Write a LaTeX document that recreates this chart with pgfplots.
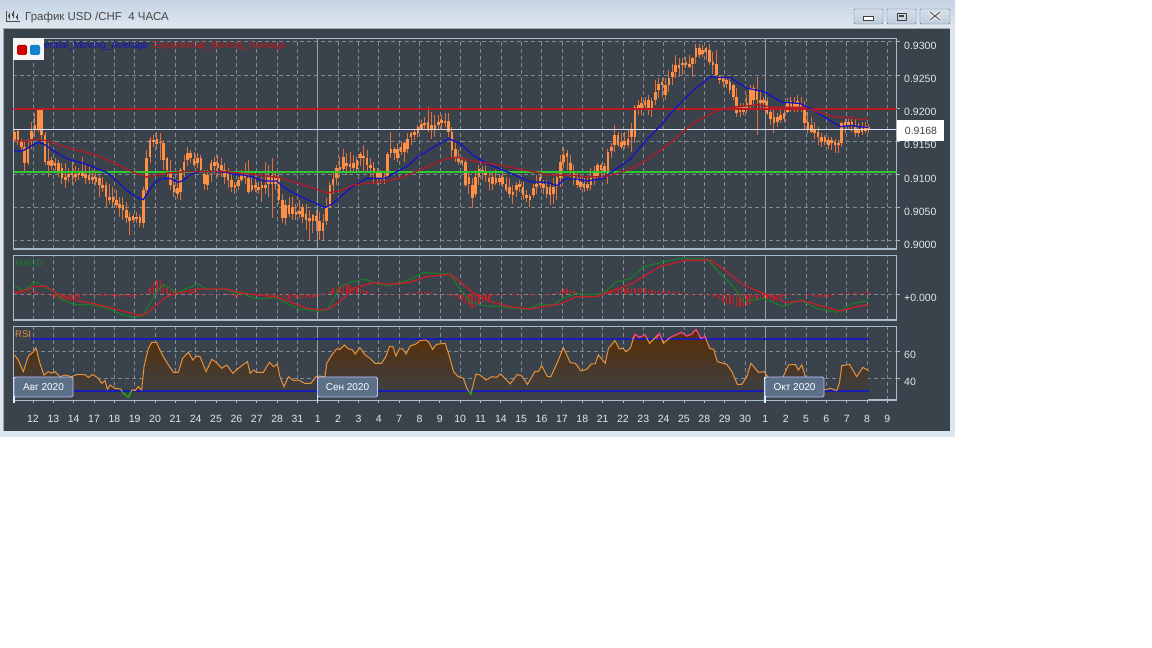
\documentclass[border=0pt]{standalone}
\usepackage{fontspec}
\setmainfont{Liberation Sans}
\usepackage{pgfplots}
\usepackage{pgfplotstable}
\pgfplotsset{compat=1.18}

\definecolor{panelbg}{HTML}{3A424C}
\definecolor{framec}{HTML}{A9BCCB}
\definecolor{gridc}{HTML}{7F8992}
\definecolor{wickc}{HTML}{E2703A}
\definecolor{bodyc}{HTML}{FF8F42}
\definecolor{mablue}{HTML}{1414C4}
\definecolor{mared}{HTML}{A81E2A}
\definecolor{levelred}{HTML}{C01820}
\definecolor{levelgreen}{HTML}{30C830}
\definecolor{macdgreen}{HTML}{1C7A2C}
\definecolor{macdred}{HTML}{C4202A}
\definecolor{rsiorange}{HTML}{E8923A}
\definecolor{rsiblue}{HTML}{1A1AB4}
\definecolor{rsifill}{HTML}{5A2D00}
\definecolor{rsimid}{HTML}{48392E}
\definecolor{tagbg}{HTML}{5C7088}
\definecolor{ticktxt}{HTML}{E4E8EC}
\definecolor{titletop}{HTML}{C5D3E2}
\definecolor{titlebot}{HTML}{DFE8F1}
\definecolor{chromebg}{HTML}{DCE6F0}
\definecolor{btntop}{HTML}{D6E0EB}
\definecolor{btnbot}{HTML}{BFCCDA}

% USD/CHF 4h candles: body top, body bottom, high, low
\pgfplotstableread{
top bot high low
0.9164 0.9152 0.9166 0.9149
0.9166 0.9149 0.9168 0.9144
0.9151 0.9142 0.9153 0.9136
0.9142 0.9117 0.9152 0.9104
0.9139 0.9117 0.9154 0.9114
0.9166 0.9154 0.9179 0.9139
0.9174 0.9169 0.9192 0.9157
0.9197 0.9169 0.9199 0.9164
0.9197 0.9159 0.9199 0.9152
0.9159 0.9119 0.9164 0.9114
0.9120 0.9114 0.9147 0.9096
0.9122 0.9113 0.9127 0.9107
0.9117 0.9112 0.9124 0.9104
0.9117 0.9104 0.9122 0.9096
0.9109 0.9094 0.9117 0.9086
0.9096 0.9091 0.9117 0.9079
0.9101 0.9096 0.9109 0.9089
0.9104 0.9099 0.9122 0.9084
0.9100 0.9096 0.9112 0.9089
0.9104 0.9099 0.9109 0.9091
0.9102 0.9097 0.9127 0.9094
0.9101 0.9094 0.9117 0.9086
0.9099 0.9091 0.9112 0.9086
0.9096 0.9091 0.9107 0.9086
0.9096 0.9089 0.9104 0.9084
0.9094 0.9084 0.9099 0.9066
0.9084 0.9079 0.9096 0.9074
0.9084 0.9066 0.9089 0.9049
0.9066 0.9061 0.9086 0.9056
0.9066 0.9059 0.9081 0.9051
0.9061 0.9054 0.9076 0.9049
0.9056 0.9049 0.9066 0.9036
0.9054 0.9046 0.9066 0.9031
0.9046 0.9034 0.9059 0.9026
0.9036 0.9029 0.9044 0.9009
0.9037 0.9031 0.9041 0.9026
0.9036 0.9032 0.9044 0.9026
0.9036 0.9027 0.9041 0.9021
0.9076 0.9026 0.9081 0.9019
0.9124 0.9076 0.9137 0.9071
0.9152 0.9127 0.9157 0.9117
0.9152 0.9149 0.9159 0.9142
0.9154 0.9146 0.9164 0.9139
0.9149 0.9147 0.9162 0.9122
0.9147 0.9122 0.9152 0.9107
0.9124 0.9107 0.9127 0.9096
0.9104 0.9084 0.9122 0.9076
0.9084 0.9074 0.9096 0.9066
0.9079 0.9071 0.9091 0.9063
0.9107 0.9074 0.9109 0.9061
0.9119 0.9107 0.9129 0.9096
0.9132 0.9122 0.9142 0.9112
0.9132 0.9124 0.9137 0.9117
0.9123 0.9114 0.9134 0.9111
0.9124 0.9117 0.9132 0.9109
0.9124 0.9107 0.9129 0.9104
0.9101 0.9086 0.9107 0.9076
0.9099 0.9084 0.9107 0.9076
0.9117 0.9107 0.9122 0.9089
0.9118 0.9112 0.9127 0.9101
0.9117 0.9109 0.9129 0.9096
0.9114 0.9107 0.9124 0.9096
0.9107 0.9096 0.9117 0.9086
0.9102 0.9091 0.9109 0.9079
0.9091 0.9081 0.9102 0.9074
0.9084 0.9079 0.9089 0.9071
0.9091 0.9082 0.9096 0.9076
0.9099 0.9091 0.9107 0.9089
0.9099 0.9094 0.9117 0.9086
0.9094 0.9074 0.9122 0.9071
0.9084 0.9076 0.9096 0.9074
0.9084 0.9079 0.9102 0.9074
0.9081 0.9076 0.9089 0.9071
0.9084 0.9079 0.9096 0.9059
0.9084 0.9079 0.9119 0.9071
0.9096 0.9086 0.9114 0.9066
0.9099 0.9086 0.9124 0.9034
0.9096 0.9086 0.9104 0.9076
0.9096 0.9061 0.9102 0.9056
0.9061 0.9034 0.9071 0.9026
0.9054 0.9034 0.9061 0.9024
0.9054 0.9041 0.9066 0.9036
0.9051 0.9041 0.9066 0.9031
0.9044 0.9039 0.9056 0.9031
0.9045 0.9041 0.9061 0.9034
0.9051 0.9036 0.9056 0.9026
0.9041 0.9031 0.9056 0.9016
0.9034 0.9029 0.9046 0.9001
0.9039 0.9029 0.9041 0.9011
0.9037 0.9029 0.9046 0.9014
0.9029 0.9014 0.9044 0.9001
0.9027 0.9014 0.9041 0.9001
0.9051 0.9029 0.9064 0.9024
0.9084 0.9051 0.9089 0.9049
0.9093 0.9084 0.9102 0.9071
0.9109 0.9094 0.9114 0.9084
0.9111 0.9107 0.9127 0.9096
0.9127 0.9108 0.9139 0.9102
0.9117 0.9112 0.9132 0.9099
0.9116 0.9111 0.9134 0.9102
0.9117 0.9109 0.9129 0.9102
0.9122 0.9108 0.9127 0.9102
0.9131 0.9124 0.9134 0.9112
0.9128 0.9124 0.9144 0.9104
0.9124 0.9114 0.9137 0.9104
0.9114 0.9109 0.9124 0.9096
0.9109 0.9102 0.9119 0.9086
0.9104 0.9094 0.9109 0.9084
0.9102 0.9094 0.9107 0.9086
0.9096 0.9091 0.9104 0.9085
0.9131 0.9096 0.9134 0.9094
0.9138 0.9133 0.9164 0.9124
0.9139 0.9132 0.9142 0.9122
0.9139 0.9124 0.9147 0.9119
0.9142 0.9134 0.9149 0.9129
0.9147 0.9134 0.9149 0.9119
0.9154 0.9139 0.9162 0.9132
0.9162 0.9156 0.9164 0.9144
0.9164 0.9159 0.9167 0.9152
0.9172 0.9163 0.9174 0.9157
0.9176 0.9169 0.9182 0.9167
0.9178 0.9174 0.9187 0.9167
0.9179 0.9169 0.9202 0.9164
0.9174 0.9167 0.9194 0.9154
0.9174 0.9167 0.9189 0.9157
0.9179 0.9174 0.9189 0.9167
0.9182 0.9177 0.9189 0.9167
0.9181 0.9177 0.9192 0.9172
0.9181 0.9164 0.9192 0.9157
0.9164 0.9137 0.9172 0.9124
0.9139 0.9124 0.9147 0.9119
0.9124 0.9119 0.9137 0.9114
0.9122 0.9117 0.9127 0.9112
0.9119 0.9084 0.9122 0.9081
0.9096 0.9085 0.9104 0.9071
0.9084 0.9064 0.9094 0.9049
0.9096 0.9071 0.9107 0.9066
0.9108 0.9096 0.9114 0.9084
0.9107 0.9102 0.9112 0.9091
0.9104 0.9099 0.9112 0.9089
0.9094 0.9089 0.9104 0.9076
0.9096 0.9086 0.9102 0.9076
0.9094 0.9087 0.9107 0.9084
0.9095 0.9089 0.9099 0.9084
0.9096 0.9086 0.9104 0.9081
0.9086 0.9076 0.9096 0.9074
0.9081 0.9071 0.9094 0.9064
0.9074 0.9069 0.9084 0.9056
0.9084 0.9076 0.9089 0.9066
0.9085 0.9081 0.9091 0.9074
0.9081 0.9069 0.9089 0.9061
0.9069 0.9064 0.9076 0.9059
0.9067 0.9061 0.9071 0.9051
0.9079 0.9069 0.9086 0.9064
0.9086 0.9081 0.9099 0.9071
0.9096 0.9084 0.9104 0.9079
0.9085 0.9079 0.9091 0.9071
0.9081 0.9071 0.9091 0.9064
0.9081 0.9069 0.9086 0.9054
0.9081 0.9071 0.9094 0.9056
0.9096 0.9081 0.9104 0.9061
0.9119 0.9094 0.9129 0.9081
0.9129 0.9119 0.9142 0.9109
0.9132 0.9126 0.9137 0.9107
0.9117 0.9107 0.9129 0.9096
0.9102 0.9094 0.9114 0.9084
0.9094 0.9084 0.9104 0.9079
0.9089 0.9081 0.9099 0.9076
0.9086 0.9079 0.9094 0.9074
0.9085 0.9080 0.9096 0.9075
0.9096 0.9084 0.9109 0.9076
0.9102 0.9094 0.9112 0.9084
0.9114 0.9096 0.9117 0.9091
0.9114 0.9107 0.9117 0.9094
0.9112 0.9104 0.9117 0.9096
0.9134 0.9099 0.9139 0.9086
0.9142 0.9136 0.9147 0.9124
0.9159 0.9144 0.9174 0.9134
0.9159 0.9144 0.9164 0.9142
0.9149 0.9142 0.9162 0.9139
0.9151 0.9144 0.9164 0.9139
0.9154 0.9144 0.9167 0.9142
0.9169 0.9156 0.9177 0.9134
0.9202 0.9157 0.9205 0.9147
0.9205 0.9198 0.9212 0.9189
0.9207 0.9199 0.9217 0.9189
0.9210 0.9205 0.9217 0.9199
0.9212 0.9199 0.9220 0.9189
0.9210 0.9199 0.9215 0.9187
0.9225 0.9212 0.9242 0.9205
0.9237 0.9227 0.9245 0.9215
0.9240 0.9235 0.9245 0.9217
0.9235 0.9220 0.9245 0.9212
0.9245 0.9235 0.9257 0.9225
0.9255 0.9247 0.9267 0.9235
0.9265 0.9255 0.9280 0.9245
0.9265 0.9260 0.9275 0.9247
0.9268 0.9265 0.9275 0.9250
0.9270 0.9265 0.9277 0.9260
0.9267 0.9262 0.9280 0.9260
0.9275 0.9267 0.9277 0.9247
0.9290 0.9277 0.9297 0.9267
0.9290 0.9280 0.9297 0.9275
0.9288 0.9282 0.9295 0.9277
0.9290 0.9285 0.9292 0.9272
0.9287 0.9270 0.9297 0.9265
0.9270 0.9265 0.9285 0.9252
0.9267 0.9250 0.9287 0.9245
0.9248 0.9242 0.9250 0.9237
0.9245 0.9240 0.9250 0.9232
0.9242 0.9237 0.9247 0.9230
0.9240 0.9227 0.9245 0.9222
0.9235 0.9217 0.9237 0.9212
0.9217 0.9192 0.9230 0.9187
0.9202 0.9194 0.9207 0.9187
0.9202 0.9194 0.9207 0.9189
0.9207 0.9199 0.9220 0.9192
0.9230 0.9205 0.9235 0.9197
0.9230 0.9212 0.9235 0.9202
0.9227 0.9212 0.9247 0.9159
0.9212 0.9207 0.9227 0.9199
0.9212 0.9207 0.9217 0.9197
0.9210 0.9192 0.9215 0.9189
0.9194 0.9184 0.9202 0.9174
0.9187 0.9177 0.9199 0.9162
0.9186 0.9179 0.9192 0.9172
0.9189 0.9182 0.9199 0.9177
0.9192 0.9184 0.9202 0.9179
0.9207 0.9194 0.9215 0.9192
0.9210 0.9202 0.9217 0.9194
0.9207 0.9199 0.9217 0.9194
0.9210 0.9202 0.9220 0.9194
0.9207 0.9202 0.9217 0.9194
0.9202 0.9177 0.9210 0.9167
0.9179 0.9169 0.9194 0.9162
0.9174 0.9164 0.9187 0.9162
0.9167 0.9162 0.9179 0.9154
0.9164 0.9157 0.9172 0.9144
0.9157 0.9149 0.9162 0.9142
0.9157 0.9149 0.9159 0.9144
0.9152 0.9144 0.9157 0.9139
0.9152 0.9147 0.9157 0.9137
0.9149 0.9144 0.9154 0.9132
0.9148 0.9144 0.9152 0.9132
0.9177 0.9147 0.9179 0.9142
0.9179 0.9173 0.9184 0.9162
0.9179 0.9174 0.9184 0.9169
0.9179 0.9174 0.9184 0.9164
0.9172 0.9162 0.9184 0.9157
0.9169 0.9162 0.9177 0.9157
0.9172 0.9164 0.9179 0.9159
0.9173 0.9166 0.9179 0.9162
0.9171 0.9168 0.9176 0.9163
}\candles

% MACD histogram, one value per candle (scaled, 0 = zero line)
\pgfplotstableread{
hist
4
8
10
7
5
6
9
6
3
1
-1
-6
-10
-14
-18
-20
-19
-18
-16
-12
-4
-3
-2
-3
-2
-4
-5
-6
-5
-4
-6
-7
-6
-8
-7
-5
-4
-3
-2
6
22
36
42
42
34
24
16
8
4
3
4
5
8
9
6
2
1
0
1
0
1
0
0
-2
-5
-8
-9
-6
-3
-2
-1
-3
-5
-6
-4
-3
-5
-4
-2
-8
-12
-13
-12
-10
-12
-13
-12
-11
-10
-8
-6
-3
3
10
18
22
26
30
30
28
22
18
15
12
10
6
3
1
0
1
1
0
1
1
2
2
3
5
6
7
9
9
8
6
3
1
0
-1
-2
-4
-8
-14
-20
-28
-32
-40
-38
-30
-26
-20
-16
-8
-4
-2
-2
-1
-2
-1
-1
-2
-1
0
-1
-1
0
0
1
1
2
5
8
12
15
16
15
10
6
3
2
1
1
1
3
4
3
8
12
14
18
18
16
18
16
18
20
20
18
14
14
12
12
10
10
9
9
8
8
7
3
2
1
1
0
-1
-3
-5
-8
-12
-18
-22
-28
-30
-34
-36
-38
-38
-36
-28
-20
-16
-14
-14
-14
-18
-20
-15
-10
-6
-2
-1
-1
0
0
-2
-4
-6
-8
-9
-10
-8
-8
-6
-3
1
3
5
6
4
7
6
5
7
6
}\macdhist

\pgfplotstableread{
i rsi
0 57.1
1.1 53.4
2.6 44.9
4.1 56.3
5.6 59.5
6.3 62.4
7.5 51
8.7 42.4
10 44.9
11 43.7
11.9 44.9
13.4 41.2
14.9 42.4
16.9 41.2
18.3 42.7
20.8 42.7
21.8 40.7
23.1 42.9
24.7 40
25.7 36.3
26.7 38.3
27.4 32
28.2 35.1
29.6 32.7
31.3 32.2
32.1 29
33.6 26.1
34.6 31.5
35.6 31
36.5 33.9
37.5 31.5
38.2 48.5
39.5 62
40.5 66.3
41.9 66.3
42.9 60.7
43.9 55.9
45.4 49.8
46.9 44.4
48.3 44.4
49.6 54.6
51.3 59
52.6 53.4
53.7 56.3
54.7 55.9
56.5 44.9
58.2 53.9
59.6 51.5
61.1 47.3
62.6 49.8
64.4 43.7
66 47.3
68.7 52.2
69.5 43.7
70.5 46.1
71.4 44.4
73.4 44.4
75.2 51.7
76.4 48.5
77.5 50.5
78.3 41.2
79.5 33.9
80.8 41.2
82.3 38.3
83.7 38.8
85.7 36.3
87.4 36.3
88.9 41.2
89.6 41.7
91.6 41.2
92.1 51
93.6 57.1
95 61.5
96 61.2
97.3 64.4
98.5 61.5
99.5 61.2
100.5 57.8
101.9 62.4
103.4 57.1
104.9 54.6
106.3 51
108.3 51
109.6 56.3
110.6 63.2
111.6 63.2
112.5 56.3
113.5 61.5
114.5 61.5
115.5 57.8
116.7 63.7
118.4 65.1
119.6 67.6
121.1 68
122.1 66.8
123.3 61.2
124.5 64.9
127 65.6
128 58.3
129.5 44.9
130.9 41.2
132.4 40
133.4 32.7
134.6 28.5
136.1 43.2
137.3 42.4
139.1 38.8
140.8 41.2
142.2 40.7
143.4 43.2
146.2 35.9
148.3 42.9
149.6 41.7
151.3 35.6
153.5 44.9
154.5 44.9
155.5 49.3
157.2 41.2
158.2 41.2
160 51
161.9 62.4
162.9 57.1
163.9 51.5
165.4 51
167.1 45.4
168.8 46.6
170.1 50.5
171.3 50.5
172.2 57.1
174.2 51
175.2 62
177.1 67.6
178.4 61.5
179.4 62
180.4 59.5
181.6 62
183 72.2
184.3 70
186 71.7
187.3 65.6
190.2 72.9
191.4 65.6
193.4 70
196.8 73.7
198.3 71
199.8 72.4
201 75.9
202.4 69.3
203.7 70.5
205 62
206.2 61.2
207.3 52.2
210.1 50.2
211.6 44.9
213.2 35.6
214.5 35.6
216 41.2
217.2 51
219.4 44.4
221.1 44.9
222.4 40
224.9 32.7
226.8 41.7
228.3 49.8
230.3 50.2
231.2 46.1
232.2 49.8
233.2 41.7
234.7 36.3
237.1 32.7
239.1 31.5
240.6 32.7
242.5 31
243.3 36.3
244 49.3
246.3 50.2
248.4 41.2
250.2 48
251.9 45.6
}\rsidata

\pgfplotsset{
  panel/.style={
    scale only axis, width=883.4pt,
    xmin=-0.35, xmax=260.2,
    xtick={5.46,11.46,...,257.46},
    xticklabels={},
    ytick pos=right, xtick pos=bottom,
    axis line style={draw=framec, line width=1.2pt},
    grid=major,
    grid style={draw=gridc, line width=0.7pt, dash pattern=on 4pt off 3pt},
    tick style={draw=framec, line width=0.9pt},
    major tick length=3pt,
    tick align=outside,
    /pgf/number format/assume math mode=true,
    tick label style={font=\fontsize{10.5}{12}\selectfont, text=ticktxt},
    yticklabel style={anchor=west, xshift=1pt, yshift=-4pt},
  },
  monthline/.style={draw=gridc!80!white, line width=0.9pt, forget plot},
}

\begin{document}
\begin{tikzpicture}[x=1pt,y=1pt]
\path[use as bounding box, fill=white] (0,0) rectangle (1152,648);

% window chrome
\fill[top color=titletop, bottom color=titlebot] (0,648) rectangle (955,619);
\fill[chromebg] (0,619) rectangle (955,211);
\fill[panelbg] (3,619) rectangle (950,217);
\draw[gray!70, line width=1pt] (3,217) -- (3,619) -- (950,619);

% title bar
\begin{scope}[shift={(6,628)}, line width=0.8pt, draw=black!70]
  \draw (0,9) -- (0,-1) -- (14,-1);
  \draw (3,1) -- (3,7); \draw (7,2) -- (7,9); \draw (11,0) -- (11,6);
  \fill[black!70] (2,3) rectangle (4,5); \fill[black!70] (6,4) rectangle (8,7); \fill[black!70] (10,2) rectangle (12,4);
\end{scope}
\node[anchor=west, inner sep=0pt, text=black!72, font=\fontsize{11.5}{12}\selectfont] at (25,630.5) {График USD /CHF\ \ 4 ЧАСА};
\foreach \xa/\xb in {854/883, 887/916, 920/950} {
  \draw[draw=gray!80!blue, top color=btntop, bottom color=btnbot, rounded corners=1pt] (\xa,639) rectangle (\xb,624);
}
\fill[white] (863,628) rectangle (873,632); \draw[black!75, line width=0.8pt] (863,628) rectangle (873,632);
\draw[black!75, line width=0.8pt] (897,628) rectangle (906,635); \fill[black!75] (899,631) rectangle (904,633);
\draw[white, line width=3pt] (930,628) -- (940,636) (930,636) -- (940,628);
\draw[black!65, line width=1.1pt] (930,628) -- (940,636) (930,636) -- (940,628);

% price panel
\begin{axis}[panel, at={(13.3pt,399pt)}, anchor=south west, height=210.7pt,
  ymin=0.89875, ymax=0.93053,
  xtick style={draw=none},
  ytick={0.9000,0.9050,0.9100,0.9150,0.9200,0.9250,0.9300},
  yticklabel style={/pgf/number format/fixed, /pgf/number format/fixed zerofill, /pgf/number format/precision=4},
  scaled y ticks=false,
]
\addplot[monthline] coordinates {(89.46,0.89875) (89.46,0.93053)};
\addplot[monthline] coordinates {(221.46,0.89875) (221.46,0.93053)};

% high-low wicks, then bodies
\addplot[draw=none, forget plot, error bars/.cd, y dir=both, y explicit, error mark=none,
  error bar style={draw=wickc, line width=1pt}]
  table[x expr=\coordindex, y=bot, y error plus expr=\thisrow{high}-\thisrow{bot}, y error minus expr=\thisrow{bot}-\thisrow{low}] {\candles};
\addplot[draw=none, forget plot, error bars/.cd, y dir=plus, y explicit, error mark=none,
  error bar style={draw=bodyc, line width=2.6pt}]
  table[x expr=\coordindex, y=bot, y error plus expr=\thisrow{top}-\thisrow{bot}] {\candles};

% levels
\addplot[draw=levelred, line width=1.6pt] coordinates {(-0.35,0.91985) (260.2,0.91985)};
\addplot[draw=white!88!blue, line width=1.4pt] coordinates {(-0.35,0.9168) (260.2,0.9168)};
\addplot[draw=levelgreen, line width=1.6pt] coordinates {(-0.35,0.9104) (260.2,0.9104)};

% blue EMA
\addplot[draw=mablue, line width=1.3pt] coordinates {
(0,0.9135)(2.6,0.9136)(4.6,0.9142)(7,0.9149)(8.5,0.9146)(11.5,0.9136)(14.4,0.9127)(16.9,0.9121)
(20.3,0.9117)(23.3,0.9111)(27.2,0.9103)(30.1,0.9091)(33.1,0.9076)(36,0.9065)(38,0.9062)(39.5,0.9074)
(41,0.9085)(42.9,0.9093)(45.9,0.9094)(48.3,0.9088)(49.8,0.9091)(51.8,0.9100)(54.7,0.9104)(58.7,0.9104)
(62.6,0.9103)(64.5,0.9100)(67.5,0.9099)(70.5,0.9096)(73.4,0.9090)(77.3,0.9090)(79.3,0.9081)(82.3,0.9072)
(87.2,0.9060)(91.6,0.9050)(93.9,0.9056)(99,0.9079)(103.9,0.9094)(109.3,0.9094)(112.7,0.9104)(115.7,0.9112)
(119.6,0.9129)(124.6,0.9144)(128,0.9154)(131.4,0.9147)(135.4,0.9128)(140.3,0.9114)(146.2,0.9102)(152.1,0.9089)
(157,0.9088)(160,0.9083)(162.4,0.9093)(165.8,0.9093)(168.8,0.9090)(173.7,0.9094)(175.7,0.9102)(181.6,0.9123)
(185.5,0.9147)(190.4,0.9173)(195.3,0.9202)(200.2,0.9227)(205.2,0.9247)(211.1,0.9246)(216,0.9230)(221,0.9225)
(226.3,0.9209)(231.7,0.9207)(235.6,0.9197)(243.5,0.9172)(247.4,0.9174)(248.4,0.9172)(251.9,0.9171)};

% red EMA
\addplot[draw=mared, line width=1.4pt] coordinates {
(0,0.9151)(3.6,0.9150)(6.5,0.9153)(10.5,0.9150)(13.4,0.9144)(17.4,0.9138)(24.2,0.9129)(29.2,0.9118)
(35.1,0.9103)(39,0.9096)(41.9,0.9099)(44.9,0.9102)(49.8,0.9104)(56.7,0.9104)(62.6,0.9104)(66.5,0.9102)
(72.4,0.9099)(78.3,0.9095)(82.3,0.9089)(90.1,0.9076)(92.1,0.9072)(96,0.9075)(99.9,0.9084)(104.9,0.9087)
(109.8,0.9090)(114.7,0.9096)(119.6,0.9107)(126.5,0.9122)(130.4,0.9126)(136.3,0.9119)(143.2,0.9114)(151.1,0.9106)
(158,0.9099)(163.9,0.9099)(169.8,0.9096)(175.7,0.9098)(181.6,0.9108)(186.5,0.9122)(193.4,0.9147)(199.3,0.9174)
(206.2,0.9194)(211.1,0.9201)(219,0.9205)(224,0.9201)(232.7,0.9201)(239.6,0.9190)(242.5,0.9186)(247.4,0.9186)
(248.4,0.9183)(251.9,0.9183)};
\end{axis}

% MACD panel, values in 1/3 px about the zero line
\begin{axis}[panel, at={(13.3pt,328pt)}, anchor=south west, height=64.7pt,
  ymin=-77, ymax=117, ytick={0}, yticklabels={+0.000},
  xtick style={draw=none},
]
\addplot[monthline] coordinates {(89.46,-77) (89.46,117)};
\addplot[monthline] coordinates {(221.46,-77) (221.46,117)};
\addplot[ycomb, draw=macdred, line width=1.5pt, forget plot] table[x expr=\coordindex, y=hist] {\macdhist};
\addplot[draw=macdgreen, line width=1.2pt] coordinates {
(0,25)(2.6,11)(4.6,25)(6.5,36)(8.5,25)(11.5,8)(14.4,-17)(17.4,-30)(23.3,-32)(27.2,-42)(32.1,-62)(35.1,-69)
(38,-62)(40,-27)(41.9,8)(43.9,28)(45.9,18)(47.8,3)(50.8,18)(54.2,30)(56.7,16)(62.6,15)(65.5,3)(67.5,1)
(71.4,-14)(77.3,-10)(80.3,-27)(84.2,-45)(89.1,-50)(92.1,-47)(94,-17)(96,23)(99,36)(102.9,46)(106.8,33)(109.8,25)
(115.7,41)(120.6,65)(124.6,63)(128.5,61)(130.9,23)(134.4,-22)(138.3,-34)(145.2,-39)(151.1,-45)(155,-30)(158.9,-32)
(161.9,-12)(165.8,3)(169.8,-2)(173.7,3)(177.6,38)(181.6,46)(185.5,83)(190.4,95)(196.3,108)(204.2,106)(208.1,63)
(212,23)(215,-22)(220.9,-12)(226.8,-37)(231.7,-17)(236.6,-42)(242.5,-54)(247.4,-27)(251.9,-19)};
\addplot[draw=macdred, line width=1.3pt] coordinates {
(0,5)(3.6,13)(6.5,25)(9.5,23)(12.4,3)(16.4,-14)(20.3,-22)(25.2,-32)(30.1,-45)(37,-64)(39,-57)(41.9,-32)(44.9,-7)
(47.8,3)(53.7,16)(62.6,16)(66.5,5)(71.4,-2)(77.3,-8)(81.3,-22)(86.2,-42)(90.1,-47)(92.6,-44)(96,-22)(99.9,18)
(105.9,35)(110.8,30)(116.7,36)(121.6,53)(128.5,60)(131.4,38)(135.4,3)(140.3,-22)(146.2,-37)(152.1,-44)(156,-37)
(161,-29)(165.8,-7)(171.7,-7)(175.7,8)(181.6,30)(190.4,83)(197.3,101)(205.2,103)(210.1,68)(215,28)(220.9,3)
(227.8,-25)(232.7,-19)(238.6,-37)(243.5,-50)(248.4,-37)(251.9,-30)};
\end{axis}

% RSI panel
\begin{axis}[panel, at={(13.3pt,248pt)}, anchor=south west, height=73.3pt,
  ymin=24.15, ymax=77.8, ytick={40,60},
  xticklabels={12,13,14,17,18,19,20,21,24,25,26,27,28,31,1,2,3,4,7,8,9,10,11,14,15,16,17,18,21,22,23,24,25,28,29,30,1,2,5,6,7,8,9},
  xticklabel style={yshift=-9pt},
]
\addplot[draw=none, top color=rsifill, middle color=rsimid, bottom color=panelbg, forget plot] table[x=i, y=rsi] {\rsidata} \closedcycle;
\addplot[monthline] coordinates {(89.46,24.15) (89.46,77.8)};
\addplot[monthline] coordinates {(221.46,24.15) (221.46,77.8)};
\addplot[draw=rsiblue, line width=1.4pt] coordinates {(5,68.8) (251.9,68.8)};
\addplot[draw=rsiblue, line width=1.4pt] coordinates {(5,30.7) (251.9,30.7)};
\addplot[draw=rsiorange, line width=1pt] table[x=i, y=rsi] {\rsidata};
% above 70 and below 30 the line changes colour
\addplot[draw=magenta!80!white, line width=1pt] coordinates {(182.2,68.8)(183,72.2)(184.3,70)(186,71.7)(186.7,68.8)};
\addplot[draw=magenta!80!white, line width=1pt] coordinates {(189.4,68.8)(190.2,72.9)(190.9,68.8)};
\addplot[draw=magenta!80!white, line width=1pt] coordinates {(192.6,68.8)(193.4,70)(196.8,73.7)(198.3,71)(199.8,72.4)(201,75.9)(202.4,69.3)(203.7,70.5)(204,68.8)};
\addplot[draw=green!70!black, line width=1pt] coordinates {(31.6,30.7)(32.1,29)(33.6,26.1)(34.4,30.7)};
\addplot[draw=green!70!black, line width=1pt] coordinates {(133.8,30.7)(134.6,28.5)(135,30.7)};
\end{axis}

% legend text and window buttons
\node[anchor=west, inner sep=0pt, text=mablue, font=\fontsize{10}{12}\selectfont] at (44,602) {ential\_Moving\_Average};
\node[anchor=west, inner sep=0pt, text=levelred, font=\fontsize{10}{12}\selectfont] at (153,602) {Exponential\_Moving\_Average};
\fill[white!92!gray] (13,610) rectangle (44,588);
\fill[red!80!black, rounded corners=1.5pt] (17,603) rectangle (27,593);
\fill[cyan!65!blue, rounded corners=1.5pt] (30,603) rectangle (40,593);
\node[anchor=west, inner sep=0pt, text=macdgreen, font=\fontsize{9.5}{12}\selectfont] at (15,385) {MACD};
\node[anchor=west, inner sep=0pt, text=rsiorange, font=\fontsize{9.5}{12}\selectfont] at (15,314) {RSI};

% last price
\fill[white] (896.5,528) rectangle (944,507);
\node[inner sep=0pt, text=black!75, font=\fontsize{10.5}{12}\selectfont] at (921,517.5) {0.9168};

% month tags
\foreach \xx/\xw/\lbl in {14/59/Авг 2020, 317.5/60/Сен 2020, 765/59/Окт 2020} {
  \draw[draw=white!85!cyan, line width=1.6pt] (\xx,271) -- ++(0,-26);
  \draw[draw=white!75!blue, fill=tagbg, line width=0.9pt, rounded corners=1.5pt] (\xx,271) rectangle ++(\xw,-20);
  \node[text=white, inner sep=0pt, font=\fontsize{10}{12}\selectfont] at (\xx+\xw/2,261) {\lbl};
}
\end{tikzpicture}
\end{document}
